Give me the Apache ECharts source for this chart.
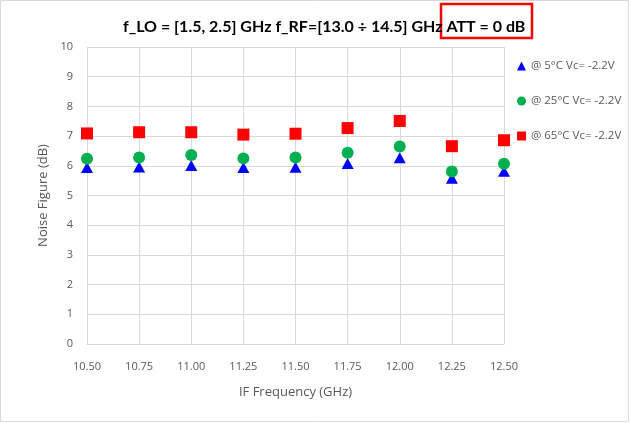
<!DOCTYPE html>
<html><head><meta charset="utf-8">
<script src="https://cdn.jsdelivr.net/npm/echarts@6/dist/echarts.min.js"></script>
<style>html,body{margin:0;padding:0;background:#fff}#c{width:630px;height:423px}</style>
</head><body><div id="c"></div>
<script>
const freqs = [10.50, 10.75, 11.00, 11.25, 11.50, 11.75, 12.00, 12.25, 12.50];
const nf5C  = [5.94, 5.96, 6.01, 5.94, 5.95, 6.08, 6.27, 5.58, 5.82];
const nf25C = [6.24, 6.28, 6.36, 6.25, 6.28, 6.44, 6.65, 5.81, 6.07];
const nf65C = [7.09, 7.13, 7.13, 7.05, 7.08, 7.27, 7.51, 6.66, 6.86];
const seriesNames = ['@ 5°C Vc= -2.2V', '@ 25°C Vc= -2.2V', '@ 65°C Vc= -2.2V'];
const titleText = 'f_LO = [1.5, 2.5] GHz f_RF=[13.0 ÷ 14.5] GHz ATT = 0 dB';

const pair = (ys) => freqs.map((f, i) => [f, ys[i]]);
const font = 'Open Sans';
const chart = echarts.init(document.getElementById('c'), null, {renderer: 'canvas'});
chart.setOption({
  animation: false,
  backgroundColor: '#fff',
  title: {
    text: titleText, left: 118, top: 14,
    textStyle: {fontFamily: 'Lato', fontSize: 16, fontWeight: 'bold', color: '#000'}
  },
  legend: {
    orient: 'vertical', left: 512, top: 55, itemGap: 23,
    itemWidth: 9, itemHeight: 9,
    textStyle: {fontFamily: font, fontSize: 11.5, color: '#595959'},
    data: [
      {name: seriesNames[0], icon: 'triangle'},
      {name: seriesNames[1], icon: 'circle'},
      {name: seriesNames[2], icon: 'rect'}
    ]
  },
  grid: {left: 87, right: 126, top: 47, bottom: 79},
  xAxis: {
    type: 'value', min: 10.5, max: 12.5, interval: 0.25,
    name: 'IF Frequency (GHz)', nameLocation: 'middle', nameGap: 42,
    nameTextStyle: {fontFamily: font, fontSize: 13, color: '#595959'},
    axisLine: {show: true, lineStyle: {color: '#d9d9d9'}},
    axisTick: {show: false},
    axisLabel: {fontFamily: font, fontSize: 11, color: '#595959', margin: 17,
      formatter: v => v.toFixed(2)},
    splitLine: {show: true, lineStyle: {color: '#d9d9d9'}}
  },
  yAxis: {
    type: 'value', min: 0, max: 10, interval: 1,
    name: 'Noise Figure (dB)', nameLocation: 'middle', nameGap: 35,
    nameTextStyle: {fontFamily: font, fontSize: 13, color: '#595959'},
    axisLine: {show: false}, axisTick: {show: false},
    axisLabel: {fontFamily: font, fontSize: 11, color: '#595959', margin: 14},
    splitLine: {show: true, lineStyle: {color: '#d9d9d9'}}
  },
  series: [
    {name: seriesNames[0], type: 'scatter', symbol: 'triangle', symbolSize: [12, 11],
      itemStyle: {color: '#0000ff', opacity: 1}, data: pair(nf5C), z: 2},
    {name: seriesNames[1], type: 'scatter', symbol: 'circle', symbolSize: 12,
      itemStyle: {color: '#00b050', opacity: 1}, data: pair(nf25C), z: 3},
    {name: seriesNames[2], type: 'scatter', symbol: 'rect', symbolSize: 12,
      itemStyle: {color: '#ff0000', opacity: 1}, data: pair(nf65C), z: 4}
  ],
  graphic: [
    {type: 'rect', shape: {x: 0.5, y: 0.5, width: 628, height: 421},
      style: {fill: 'none', stroke: '#d9d9d9', lineWidth: 1}, silent: true},
    {type: 'rect', shape: {x: 441, y: 4, width: 91, height: 34},
      style: {fill: 'none', stroke: '#ff0000', lineWidth: 2.5}, silent: true}
  ]
});
</script></body></html>
